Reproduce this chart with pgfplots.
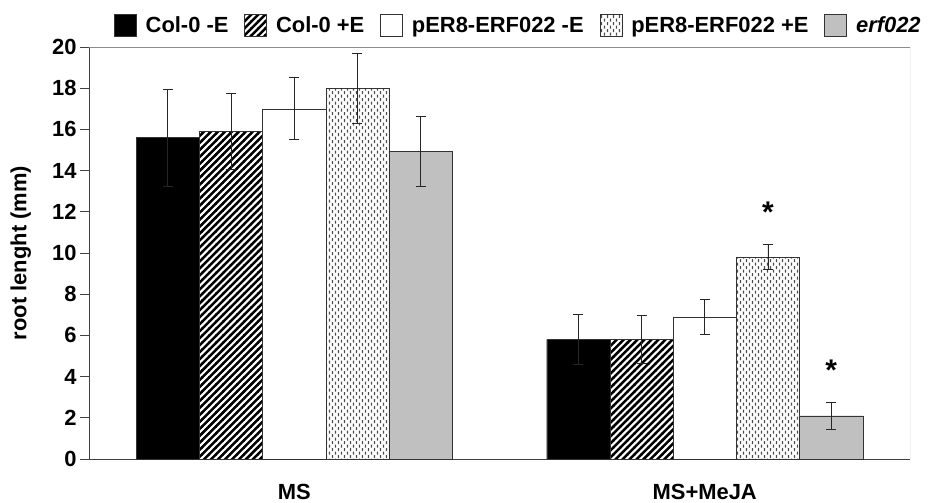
\documentclass[border=0pt]{standalone}
\usepackage{fontspec}
\setmainfont{Liberation Sans}
\usepackage{pgfplots}
\pgfplotsset{compat=1.18}
\usetikzlibrary{patterns}
\pgfdeclarepatternformonly{hatchb}{\pgfqpoint{-1pt}{-1pt}}{\pgfqpoint{8pt}{8pt}}{\pgfqpoint{7pt}{7pt}}{%
  \pgfsetlinewidth{2.5pt}%
  \pgfpathmoveto{\pgfqpoint{-1pt}{-1pt}}\pgfpathlineto{\pgfqpoint{8pt}{8pt}}%
  \pgfusepath{stroke}}
\pgfdeclarepatternformonly{vdashes}{\pgfpointorigin}{\pgfqpoint{6pt}{7pt}}{\pgfqpoint{6pt}{7pt}}{%
  \pgfsetlinewidth{1.2pt}%
  \pgfpathmoveto{\pgfqpoint{1.5pt}{0.3pt}}\pgfpathlineto{\pgfqpoint{1.5pt}{3.3pt}}%
  \pgfpathmoveto{\pgfqpoint{4.5pt}{3.8pt}}\pgfpathlineto{\pgfqpoint{4.5pt}{6.8pt}}%
  \pgfusepath{stroke}}
\definecolor{barg}{RGB}{192,192,192}
\newcommand{\cf}{\fontsize{22}{24}\selectfont\bfseries}
\begin{document}
\begin{tikzpicture}
\begin{axis}[
  at={(0,0)}, anchor=south west,
  scale only axis, width=821bp, height=412bp,
  ybar=0pt, bar width=0.154,
  xmin=-0.5, xmax=1.5, ymin=0, ymax=20,
  xtick={0,1}, xticklabels={MS,MS+MeJA},
  ytick distance=2,
  axis lines=left, axis line style={-, black!75, line width=0.8pt},
  tick align=outside,
  major tick length=9bp,
  x tick style={draw=none},
  y tick style={black!75, line width=0.8pt},
  extra x ticks={-0.5,0.5,1.5}, extra x tick labels={},
  extra x tick style={major tick length=9bp, tick style={draw=black!75, line width=0.8pt}},
  xticklabel style={font=\cf, yshift=-13bp},
  yticklabel style={font=\cf},
  /pgf/number format/assume math mode=true,
  ylabel={root lenght (mm)},
  every axis y label/.style={at={(axis description cs:-0.083,0.5)}, anchor=center, rotate=90, font=\cf},
  legend columns=5,
  legend style={at={(0.523,1.053)}, anchor=center, draw=none, fill=none, font=\cf,
    /tikz/every odd column/.append style={column sep=7bp},
    /tikz/every even column/.append style={column sep=14bp}},
  legend image code/.code={\draw[#1, draw=black!80, line width=0.6pt] (0bp,-11bp) rectangle (22bp,11bp);},
  error bars/y dir=both, error bars/y explicit,
  error bars/error bar style={black!85, line width=0.8pt},
  error bars/error mark options={rotate=90, mark size=5bp, black!85, line width=0.8pt},
]
\addplot[draw=black!80, fill=black] coordinates {(0,15.6) +- (0,2.35) (1,5.8) +- (0,1.2)};
\addplot[draw=black!80, pattern=hatchb, pattern color=black] coordinates {(0,15.9) +- (0,1.85) (1,5.8) +- (0,1.15)};
\addplot[draw=black!80, fill=white] coordinates {(0,17.0) +- (0,1.5) (1,6.9) +- (0,0.85)};
\addplot[draw=black!80, pattern=vdashes, pattern color=black!70] coordinates {(0,18.0) +- (0,1.7) (1,9.8) +- (0,0.62)};
\addplot[draw=black!80, fill=barg] coordinates {(0,14.95) +- (0,1.7) (1,2.1) +- (0,0.67)};
\legend{Col-0 -E, Col-0 +E, pER8-ERF022 -E, pER8-ERF022 +E, \textit{erf022}}
\draw[black!45, line width=0.8pt] (rel axis cs:0,1) -- (rel axis cs:1,1) -- (rel axis cs:1,0);
\node[font=\fontsize{30}{30}\selectfont\bfseries] at (axis cs:1.154,12.0) {*};
\node[font=\fontsize{30}{30}\selectfont\bfseries] at (axis cs:1.308,4.3) {*};
\end{axis}
\pgfresetboundingbox
\path (-89bp,-44bp) rectangle (844bp,459bp);
\end{tikzpicture}
\end{document}
